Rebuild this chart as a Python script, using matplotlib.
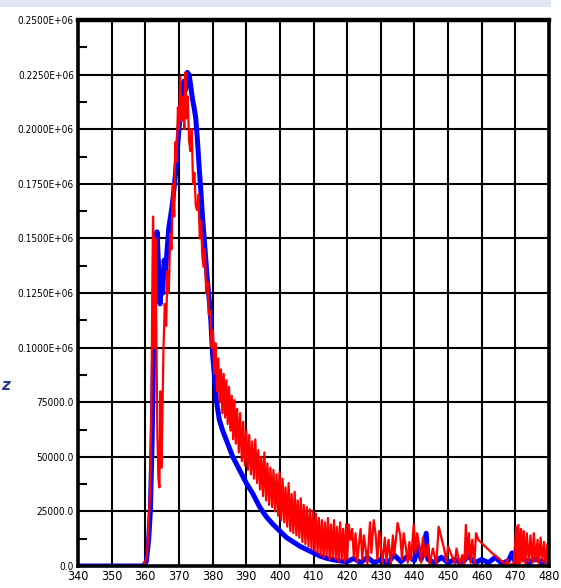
import numpy as np
import matplotlib.pyplot as plt
from matplotlib import font_manager
from matplotlib.patches import Rectangle
from matplotlib.ticker import FixedLocator

# blue curve (wavelength, intensity)
blue_x = [340, 358, 359.5, 360.3, 361, 361.5, 362, 362.5, 363, 363.5, 364, 364.4, 364.8, 365.2,
          365.6, 366, 366.5, 367, 367.5, 368, 368.5, 369, 369.5, 370, 370.5, 371, 371.5, 372,
          372.5, 373, 373.5, 374, 374.5, 375, 375.5, 376, 376.5, 377, 377.5, 378, 378.5, 379,
          379.5, 380, 380.5, 381, 381.5, 382, 383, 384, 385, 386, 387, 388, 389, 390, 392, 394,
          396, 398, 400, 402, 404, 406, 408, 410, 412, 414, 416, 418, 420, 422, 424, 426, 428,
          430, 432, 434, 436, 438, 440, 441, 442, 443.5, 444, 446, 448, 450, 452, 454, 456, 458,
          460, 462, 464, 466, 468, 469, 470, 472, 474, 476, 478, 480]
blue_y = [0, 0, 0, 2000, 12000, 25000, 55000, 100000, 140000, 153000, 135000, 120000, 130000, 125000,
          140000, 135000, 145000, 155000, 160000, 165000, 172000, 180000, 190000, 200000, 208000, 215000, 222000, 218000,
          226000, 225000, 220000, 214000, 210000, 205000, 195000, 183000, 172000, 160000, 150000, 140000, 130000, 122000,
          112000, 97000, 88000, 78000, 72000, 67000, 62000, 58000, 54000, 50000, 47000, 44000, 41000, 38000, 33000, 27000,
          22500, 19000, 16000, 13000, 11000, 9000, 7500, 6000, 4500, 3500, 2800, 2300, 2000, 3500, 1500, 4000, 1500,
          3000, 1200, 5000, 2000, 4500, 2500, 9000, 3000, 15000, 3000, 1500, 4000, 1500, 3000, 1200, 4500, 1500,
          3000, 1500, 4000, 1200, 2500, 6000, 1500, 4000, 1500, 3500, 1500, 3000]

# red curve (wavelength, intensity)
red_x = [340, 357, 358.5, 359.8, 360.5, 361, 361.4, 361.8, 362.1, 362.3, 362.6, 362.8, 363, 363.3,
         363.6, 363.9, 364.2, 364.5, 364.8, 365.1, 365.4, 365.8, 366.2, 366.6, 367, 367.4, 367.8,
         368.2, 368.6, 368.9, 369.3, 369.7, 370, 370.4, 370.8, 371.2, 371.6, 371.9, 372.2, 372.6,
         373, 373.4, 373.8, 374.2, 374.6, 375, 375.4, 375.8, 376.2, 376.6, 376.9, 377.3, 377.7,
         378.1, 378.5, 378.9, 379.3, 379.7, 380.1, 380.5, 380.9, 381.3, 381.7, 382.1, 382.5, 382.9,
         383.3, 383.7, 384.1, 384.5, 384.9, 385.3, 385.7,
         386.1, 386.5, 386.9, 387.3, 387.8, 388.2, 388.7, 389.1, 389.6, 390.0, 390.5, 390.9,
         391.4, 391.8, 392.3, 392.7, 393.2, 393.6, 394.1, 394.5, 395.0, 395.4, 395.9, 396.3,
         396.8, 397.2, 397.7, 398.1, 398.6, 399.0, 399.5, 399.9, 400.4, 400.8, 401.3, 401.7,
         402.2, 402.6, 403.1, 403.5, 404.0, 404.4, 404.9, 405.3, 405.8, 406.2, 406.7, 407.1,
         407.6, 408.0, 408.5, 408.9, 409.4, 409.8, 410.3, 410.7, 411.2, 411.6, 412.1, 412.5,
         413.0, 413.4, 413.9, 414.3, 414.8, 415.2, 415.7, 416.1, 416.6, 417.0, 417.5, 417.9,
         418.4, 418.8, 419.3, 419.7,
         420.0, 420.5, 421.0, 421.5, 422.0, 422.5, 423.0, 423.5, 424.0, 424.5, 425.0, 425.5,
         426.0, 426.8, 427.2, 427.9, 428.5, 429.0, 429.5, 430.0, 430.5, 431.2, 431.7, 432.3,
         433.0, 433.6, 434.0, 435.0, 435.8, 436.3, 436.8, 437.5, 438.0, 438.5, 439.0, 439.8,
         440.3, 440.8, 441.5, 442.0, 442.5, 443.2, 444.0, 444.5, 445.5, 446.5, 447.2, 448.0,
         448.8, 449.5, 450.0, 451.0, 452.0, 452.5, 453.5, 454.2, 454.8, 455.3, 455.7, 456.2,
         456.7, 457.2, 457.8, 458.3, 459.0, 461.0, 463.0, 465.0, 467.2, 467.5, 468.0, 469.5,
         470.3, 470.6, 470.9, 471.3, 471.7, 472.1, 472.5, 473.0, 473.4, 474.0, 474.5, 475.0,
         475.5, 476.0, 476.6, 477.0, 477.5, 478.0, 478.5, 479.0, 479.5, 480]
red_y = [0, 0, 0, 1000, 5000, 20000, 33000, 70000, 130000, 160000, 140000, 100000, 150000, 105000,
         60000, 40000, 36000, 80000, 45000, 70000, 99000, 120000, 110000, 135000, 125000, 152000, 145000,
         175000, 160000, 194000, 185000, 210000, 200000, 224000, 204000, 215000, 200000, 226000, 205000, 215000,
         195000, 190000, 200000, 175000, 180000, 165000, 163000, 170000, 150000, 158000, 143000, 137000, 145000,
         125000, 130000, 115000, 117000, 100000, 108000, 88000, 102000, 80000, 95000, 75000, 90000, 70000,
         88000, 68000, 85000, 65000, 82000, 62000, 78000,
         58000, 76000, 56000, 72000, 52000, 70000, 48000, 66000, 46000, 62000, 44000, 60000,
         42000, 57000, 40000, 58000, 38000, 53000, 35000, 50000, 32000, 52000, 30000, 47000,
         28000, 45000, 27000, 44000, 25000, 42000, 23000, 43000, 21000, 40000, 20000, 36000,
         18000, 38000, 16000, 33000, 15000, 34000, 14000, 30000, 13000, 31000, 11000, 28000,
         10000, 27000, 9000, 26000, 8000, 25000, 7000, 24000, 6000, 22000, 5000, 21000,
         4000, 20000, 5000, 22000, 3000, 19000, 4000, 21000, 3000, 18000, 2000, 20000,
         3000, 17000, 2000, 19000,
         3000, 19000, 12000, 17000, 4000, 15000, 2000, 10000, 17000, 3000, 14000, 8000,
         1000, 20000, 6000, 21000, 14000, 3000, 16000, 9000, 1500, 13000, 2000, 12000,
         1000, 14000, 5000, 19700, 14000, 3000, 15000, 8000, 1500, 11000, 3000, 19000,
         6000, 15000, 9000, 1500, 13000, 4000, 10000, 1000, 8000, 500, 18000, 13000,
         8000, 2000, 9000, 5000, 1000, 8000, 500, 5000, 500, 18800, 3000, 15000,
         1500, 12000, 1000, 15000, 12000, 9000, 6000, 3500, 500, 3000, 500, 1000,
         18000, 1000, 18800, 1000, 17000, 2000, 16000, 1000, 15000, 2000, 14000, 1500,
         15000, 2000, 12000, 1000, 13000, 2000, 11000, 1000, 10000, 2000]

x_ticks = [340, 350, 360, 370, 380, 390, 400, 410, 420, 430, 440, 450, 460, 470, 480]
y_ticks = [0, 25000, 50000, 75000, 100000, 125000, 150000, 175000, 200000, 225000, 250000]
y_labels = ['0.0', '25000.0', '50000.0', '75000.0', '0.1000E+06', '0.1250E+06', '0.1500E+06',
            '0.1750E+06', '0.2000E+06', '0.2250E+06', '0.2500E+06']

# narrow font if there is one, otherwise Liberation Sans (arial-like)
fonts = font_manager.fontManager.ttflist
names = {f.name for f in fonts}
if 'Liberation Sans Narrow' in names:
    lab_font = dict(family='Liberation Sans Narrow', stretch='normal')
    ysz, xsz = 9, 10.5
elif any(f.name == 'DejaVu Sans' and f.stretch == 'condensed' for f in fonts):
    lab_font = dict(family='DejaVu Sans', stretch='condensed')
    ysz, xsz = 7.2, 9
else:
    lab_font = dict(family='Liberation Sans', stretch='normal')
    ysz, xsz = 7.4, 9

fig = plt.figure(figsize=(5.61, 5.88), dpi=100)
fig.patch.set_facecolor('white')
# bit of the slide behind the screenshot
fig.patches.append(Rectangle((0, 1 - 7 / 588), 551 / 561, 7 / 588, transform=fig.transFigure,
                             facecolor='#e2e6f4', edgecolor='none', zorder=-1))
fig.text(1 / 561, 1 - 386 / 588, 'z', ha='left', va='center', fontsize=11,
         fontweight='bold', fontstyle='italic', color='#2a3a8e', family='DejaVu Sans')

ax = fig.add_axes([78 / 561, 1 - 566 / 588, 471 / 561, 546 / 588])
ax.plot(blue_x, blue_y, color='#0000ff', lw=3.6, zorder=3)
ax.plot(red_x, red_y, color='#ff0000', lw=1.6, zorder=4)

ax.set_xlim(340, 480)
ax.set_ylim(0, 250000)
ax.set_xticks(x_ticks)
ax.set_xticklabels([str(v) for v in x_ticks], fontsize=xsz, **lab_font)
ax.set_yticks(y_ticks)
ax.set_yticklabels(y_labels, fontsize=ysz, **lab_font)
ax.yaxis.set_minor_locator(FixedLocator([12500 + 25000 * i for i in range(10)]))
ax.tick_params(axis='both', which='major', length=0, pad=3)
ax.tick_params(axis='y', which='minor', direction='in', length=6.5, width=1.5, color='black')
ax.grid(True, which='major', color='black', lw=1.5, zorder=1)
for s in ax.spines.values():
    s.set_linewidth(2.6)
    s.set_zorder(5)
ax.spines['top'].set_linewidth(3.2)

fig.savefig('out.png', dpi=100)
